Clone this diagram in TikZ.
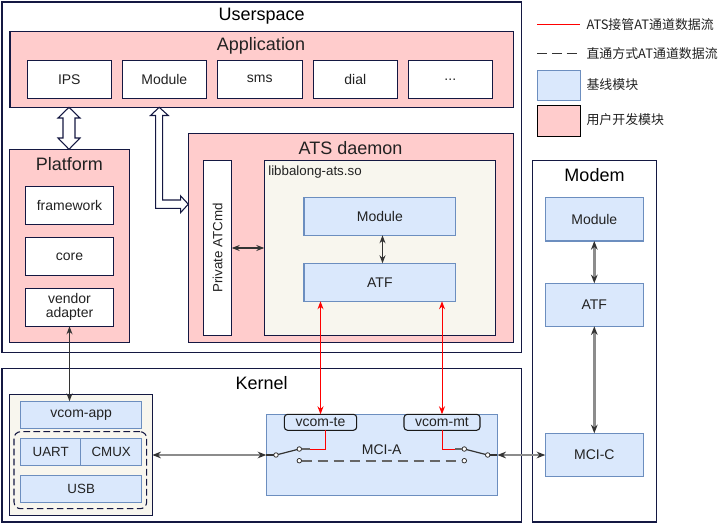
\documentclass[tikz,border=0pt]{standalone}
\usepackage{fontspec}
\setmainfont{Liberation Sans}
\newfontfamily\cjk{Noto Sans CJK SC}
\usetikzlibrary{arrows.meta}
\definecolor{navy}{RGB}{20,24,66}
\definecolor{pinkf}{HTML}{FFCCCC}
\definecolor{bluef}{HTML}{DAE8FC}
\definecolor{blued}{HTML}{6C8EBF}
\definecolor{beige}{HTML}{F8F6EE}
\definecolor{txt}{HTML}{222222}
\definecolor{grayl}{HTML}{8C8C8C}
\definecolor{tipc}{HTML}{333333}
\definecolor{dashc}{HTML}{666666}
\definecolor{redl}{HTML}{FF0000}
\newcommand\BX[7]{\node[#1,minimum width={((#5)-(#3))*0.75pt},minimum height={((#6)-(#4))*0.75pt}] (#2) at ({((#3)+(#5))/2},{((#4)+(#6))/2}) {#7};}
\begin{document}
\begin{tikzpicture}[x=0.75pt,y=-0.75pt,
 every node/.style={inner sep=0pt,outer sep=0pt,text=txt,font=\fontsize{10.5}{12}\selectfont},
 frm/.style={draw=navy,line width=0.8pt},
 pinkbox/.style={frm,fill=pinkf},
 whitebox/.style={frm,fill=white},
 bluebox/.style={draw=blued,line width=0.8pt,fill=bluef},
 beigebox/.style={frm,fill=beige},
 vcombox/.style={draw=black!90,line width=0.8pt,fill=bluef,rounded corners=2.5pt},
 ttl/.style={font=\fontsize{13.5}{16}\selectfont,text=black},
 smalltxt/.style={font=\fontsize{10}{12}\selectfont},
 legtxt/.style={font=\cjk\fontsize{9.7}{12}\selectfont,anchor=west,text=txt},
 hollow/.style={draw=navy,line width=0.8pt,fill=white,line join=miter},
 blk/.style={draw=tipc,line width=0.8pt,{Stealth[length=6pt,width=4.5pt]}-{Stealth[length=6pt,width=4.5pt]}},
 gry/.style={draw=grayl,line width=1.8pt,{Stealth[color=tipc,length=6.5pt,width=5pt]}-{Stealth[color=tipc,length=6.5pt,width=5pt]}},
 redarrow/.style={draw=redl,line width=0.75pt,{Stealth[length=6pt,width=4.5pt]}-{Stealth[length=6pt,width=4.5pt]}},
 redline/.style={draw=redl,line width=0.75pt},
 swline/.style={draw=tipc,line width=0.9pt},
 grayseg/.style={draw=dashc,line width=1.6pt},
 sw/.style={circle,draw=tipc,fill=white,line width=0.6pt,minimum size=3.4pt}
]
\fill[white] (0,0) rectangle (720,524);
\useasboundingbox (0,0) rectangle (720,524);

% ---------- Userspace ----------
\BX{frm}{user}{2}{2}{521.5}{352.7}{}
\node[ttl] (usert) at (261.7,16) {Userspace};
\BX{pinkbox}{app}{10}{31.7}{513.3}{107.3}{}
\node[ttl,text=txt] (appt) at (261,46) {Application};
\BX{whitebox}{ips}{27.3}{60.3}{111.3}{98.3}{IPS}
\BX{whitebox}{amod}{122.3}{60.3}{206.3}{98.3}{Module}
\BX{whitebox}{sms}{217.3}{60.3}{302.3}{98.3}{sms}
\BX{whitebox}{dial}{313.3}{60.3}{397.3}{98.3}{dial}
\BX{whitebox}{dots}{408.3}{60.3}{492.3}{98.3}{...}

% Platform
\BX{pinkbox}{plat}{9.5}{149.3}{129.3}{342.3}{}
\node[ttl,text=txt] (platt) at (69.3,164) {Platform};
\BX{whitebox}{fw}{25.3}{186.7}{113.7}{224.3}{framework}
\BX{whitebox}{core}{25.3}{237.3}{113.7}{275.3}{core}
\BX{whitebox}{vendor}{25.3}{288.3}{113.7}{326.3}{\begin{tabular}{@{}c@{}}vendor\\[-2pt]adapter\end{tabular}}

% ATS daemon
\BX{pinkbox}{ats}{188.3}{133.3}{513.3}{342.3}{}
\node[ttl,text=txt] (atst) at (350.5,148) {ATS daemon};
\BX{whitebox}{patc}{203.3}{160.7}{231.7}{335.3}{}
\node[smalltxt,rotate=90] (patct) at (patc.center) {Private ATCmd};
\BX{beigebox}{lib}{264.3}{160.7}{495.7}{335.3}{}
\node[smalltxt,anchor=west] (libt) at (268.3,172.3) {libbalong-ats.so};
\BX{bluebox}{libmod}{304}{197.3}{455.7}{235.3}{Module}
\BX{bluebox}{libatf}{304}{263.3}{455.7}{301.3}{ATF}

% hollow arrows
\draw[hollow] (69,107.3) -- (80,118) -- (75,118) -- (75,138) -- (80,138) -- (69,149.3)
  -- (58,138) -- (63,138) -- (63,118) -- (58,118) -- cycle;
\draw[hollow] (159.2,107.3) -- (168.3,115.5) -- (162.7,115.5) -- (162.7,200) -- (180.7,200)
  -- (180.7,196) -- (188.3,204.2) -- (180.7,212.5) -- (180.7,208.3) -- (155.7,208.3)
  -- (155.7,115.5) -- (150.5,115.5) -- cycle;

% connectors in userspace
\draw[blk] (patc.east) -- (lib.west);
\coordinate (lma) at (382.5,235.3);
\coordinate (lmb) at (382.5,263.3);
\draw[blk] (lma) -- (lmb);

% ---------- Legend ----------
\coordinate (lr1) at (537.3,25);
\coordinate (lr2) at (580.3,25);
\draw[redline] (lr1) -- (lr2);
\node[legtxt] (lt1) at (586.5,25) {ATS接管AT通道数据流};
\coordinate (ld1) at (537.3,53.5);
\coordinate (ld2) at (580.3,53.5);
\draw[draw=tipc,line width=0.9pt,dash pattern=on 7.5pt off 3.5pt] (ld1) -- (ld2);
\node[legtxt] (lt2) at (586.5,53.5) {直通方式AT通道数据流};
\BX{bluebox}{lblue}{537.3}{70.3}{580.3}{100.3}{}
\node[legtxt] (lt3) at (586.5,85) {基线模块};
\BX{frm,fill=pinkf,draw=black}{lpink}{537.3}{105.3}{580.3}{136.3}{}
\node[legtxt] (lt4) at (586.5,119.5) {用户开发模块};

% ---------- Modem ----------
\BX{frm}{modem}{532.3}{160.7}{656.3}{522}{}
\node[ttl] (modemt) at (594.5,175) {Modem};
\BX{bluebox}{mmod}{545.3}{197.3}{643.3}{241}{Module}
\BX{bluebox}{matf}{545.3}{283.3}{643.3}{326.3}{ATF}
\BX{bluebox}{mcic}{545.3}{433.3}{643.3}{476.3}{MCI-C}
\draw[gry] (mmod.south) -- (matf.north);
\draw[gry] (matf.south) -- (mcic.north);

% ---------- Kernel ----------
\BX{frm}{kern}{2}{368.3}{521.5}{522}{}
\node[ttl] (kernt) at (261.7,383) {Kernel};
\BX{beigebox}{kl}{9.5}{394.3}{152.3}{515.3}{}
\BX{bluebox}{vapp}{20.7}{401.3}{141.7}{428.3}{vcom-app}
\BX{draw=navy,line width=0.8pt,dash pattern=on 5pt off 2.5pt,rounded corners=5pt}{dbox}{14}{431.7}{146.7}{508.7}{}
\BX{bluebox,smalltxt}{uart}{20.7}{438.3}{80.7}{465.3}{UART}
\BX{bluebox,smalltxt}{cmux}{80.7}{438.3}{141.7}{465.3}{CMUX}
\BX{bluebox,smalltxt}{usb}{20.7}{475.3}{141.7}{502.7}{USB}

\BX{bluebox}{mcia}{266.3}{414.3}{497.3}{495.3}{}
\node (mciat) at (381.7,450) {MCI-A};
\BX{vcombox}{vte}{284.3}{414.3}{356.7}{430.3}{vcom-te}
\BX{vcombox}{vmt}{404}{414.3}{480}{430.3}{vcom-mt}

% switches
\node[sw] (lp) at (276,455) {};
\node[sw] (lu) at (299.3,449) {};
\node[sw] (ll) at (299.3,460.7) {};
\node[sw] (rp) at (487.7,455) {};
\node[sw] (ru) at (464.3,449) {};
\node[sw] (rl) at (464.3,460.7) {};
\draw[swline] (lp) -- (lu);
\draw[swline] (rp) -- (ru);
\draw[grayseg,dash pattern=on 7.5pt off 4.5pt] (ll) -- (rl);
\coordinate (lr0) at (310,449);
\coordinate (lrt) at (325.7,430.3);
\coordinate (rr0) at (455,449);
\coordinate (rrt) at (442.3,430.3);
\draw[grayseg] (lu) -- (lr0);
\draw[redline] (lr0) -| (lrt);
\draw[grayseg] (ru) -- (rr0);
\draw[redline] (rr0) -| (rrt);

% kernel connectors
\draw[swline] (lp) -- (mcia.west |- lp);
\draw[gry] (kl.east |- lp) -- (mcia.west |- lp);
\draw[swline] (rp) -- (mcia.east |- rp);
\draw[gry] (mcia.east |- rp) -- (mcic.west |- rp);

% cross-layer connectors
\draw[blk] (vendor.south) -- (vendor.south |- vapp.north);
\draw[redarrow] (libatf.south -| vte.north) -- (vte.north);
\draw[redarrow] (libatf.south -| vmt.north) -- (vmt.north);
\end{tikzpicture}
\end{document}
